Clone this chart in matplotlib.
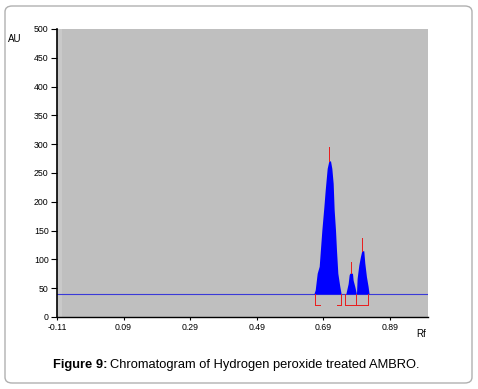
import numpy as np
import matplotlib.pyplot as plt
from matplotlib.patches import FancyBboxPatch

plt.rcParams['font.family'] = ['Liberation Sans', 'DejaVu Sans']

# track data (Rf, AU)
baseline = 40
peak1_rf = [0.662, 0.666, 0.672, 0.678, 0.686, 0.692, 0.696, 0.702, 0.707, 0.712,
            0.716, 0.720, 0.723, 0.727, 0.730, 0.734, 0.740, 0.744]
peak1_au = [40, 47, 76, 88, 151, 191, 220, 258, 271, 271,
            258, 232, 186, 151, 116, 76, 53, 40]
peak2_rf = [0.758, 0.765, 0.768, 0.770, 0.778, 0.780, 0.785, 0.790]
peak2_au = [40, 58, 73, 76, 76, 64, 53, 40]
peak3_rf = [0.790, 0.792, 0.797, 0.802, 0.806, 0.812, 0.815, 0.820, 0.825, 0.828]
peak3_au = [40, 67, 90, 105, 115, 115, 94, 70, 53, 40]

# peak maxima markers (red)
max_rf = [0.708, 0.773, 0.806]
max_lo = [271, 76, 115]
max_hi = [295, 96, 137]

# integration brackets
bracket_edges = [[0.664, 0.744], [0.756, 0.790, 0.826]]
bracket_low = 20

xticks = [-0.11, 0.09, 0.29, 0.49, 0.69, 0.89]
yticks = list(range(0, 501, 50))

fig = plt.figure(figsize=(4.78, 3.89), dpi=100)
fig.patches.append(FancyBboxPatch((5 / 478, 6 / 389), 467 / 478, 377 / 389,
                                  boxstyle="round,pad=0,rounding_size=0.015",
                                  transform=fig.transFigure, fc="white",
                                  ec="#b0b0b0", lw=1.0, zorder=-10))

ax = fig.add_axes([57 / 478, 72 / 389, 371 / 478, 288 / 389])
ax.set_facecolor("#bfbfbf")
ax.set_xlim(-0.11, 1.005)
ax.set_ylim(0, 500)

ax.axvspan(-0.11, -0.095, color="#c9c9c9", lw=0, zorder=0)
ax.axhline(baseline, color="#3a3ad8", lw=0.8, zorder=2)

blue = "#0000ff"
for rf, au in [(peak1_rf, peak1_au), (peak2_rf, peak2_au), (peak3_rf, peak3_au)]:
    ax.fill_between(rf, baseline, au, color=blue, lw=0, zorder=3)

red = "#e82020"
kw = dict(color=red, lw=0.72, zorder=4, antialiased=False)
ax.vlines(max_rf, max_lo, max_hi, **kw)

# first bracket: open at the middle
e = bracket_edges[0]
ax.vlines(e, bracket_low, baseline, **kw)
ax.hlines(bracket_low, e[0], e[0] + 0.016, **kw)
ax.hlines(bracket_low, e[1] - 0.012, e[1], **kw)
# second bracket: closed across both small peaks
e = bracket_edges[1]
ax.vlines(e, bracket_low, baseline, **kw)
ax.hlines(bracket_low, e[0], e[-1], **kw)

ax.set_xticks(xticks)
ax.set_xticklabels(["%.2f" % t for t in xticks])
ax.set_yticks(yticks)
ax.tick_params(axis="both", labelsize=6.3, length=4.5, width=0.8, pad=1.5, colors="black")
ax.tick_params(axis="x", length=2.5)
for s in ["top", "right"]:
    ax.spines[s].set_visible(False)
ax.spines["left"].set_linewidth(1.2)
ax.spines["bottom"].set_linewidth(1.0)

fig.text(8 / 478, 1 - 39 / 389, "AU", fontsize=7, va="center", ha="left")
fig.text(426 / 478, 1 - 334 / 389, "Rf", fontsize=7, va="center", ha="right")

cap1 = fig.text(53 / 478, 1 - 365 / 389, "Figure 9:", fontsize=9.3, fontweight="bold",
                va="center", ha="left")
fig.canvas.draw()
bb = cap1.get_window_extent()
fig.text((bb.x1 + 3) / 478, 1 - 365 / 389, "Chromatogram of Hydrogen peroxide treated AMBRO.",
         fontsize=9.3, va="center", ha="left")

fig.savefig("out.png", dpi=100)
